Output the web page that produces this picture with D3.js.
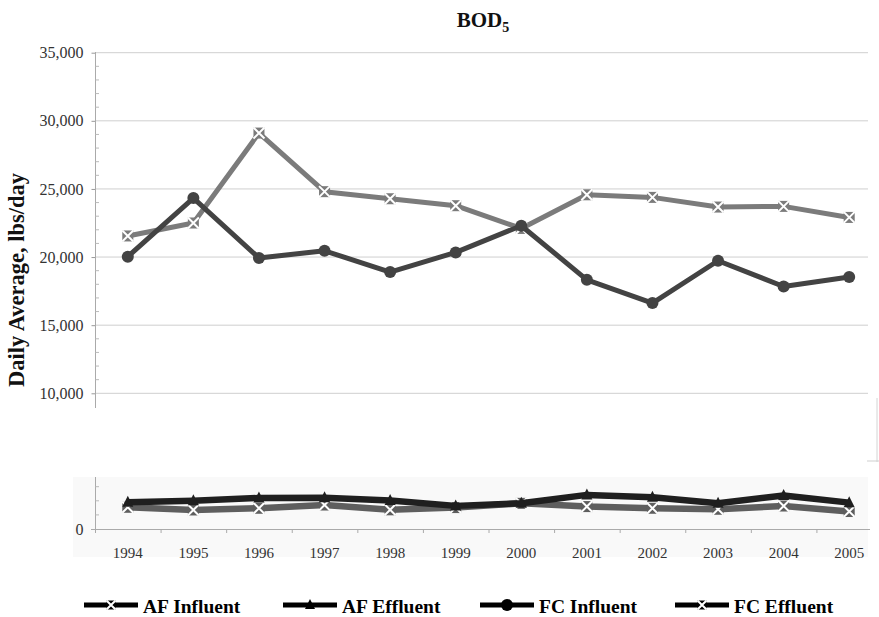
<!DOCTYPE html>
<html>
<head>
<meta charset="utf-8">
<script src="https://cdn.jsdelivr.net/npm/d3@7/dist/d3.min.js"></script>
<style>
  html, body { margin: 0; padding: 0; background: #ffffff; }
  svg { display: block; }
  text { font-family: "Liberation Serif", "Times New Roman", serif; }
</style>
</head>
<body>
<svg id="chart" width="879" height="617"></svg>
<script>
// BOD5 loads, daily average lbs/day
const years = ["1994","1995","1996","1997","1998","1999","2000","2001","2002","2003","2004","2005"];
const afInfluent = [21550, 22500, 29100, 24800, 24280, 23770, 22100, 24570, 24380, 23670, 23720, 22910];
const fcInfluent = [20030, 24330, 19930, 20460, 18900, 20340, 22300, 18330, 16620, 19730, 17840, 18530];
const afEffluent = [1900, 2000, 2200, 2220, 2020, 1640, 1830, 2420, 2250, 1830, 2380, 1870];
const fcEffluent = [1540, 1350, 1470, 1700, 1360, 1520, 1820, 1590, 1470, 1400, 1630, 1240];
const upperTicks = [10000, 15000, 20000, 25000, 30000, 35000];
const lowerTicks = [0, 1000, 2000, 3000];
const legendNames = ["AF Influent", "AF Effluent", "FC Influent", "FC Effluent"];

const svg = d3.select("#chart");
const fmt = d3.format(",");

// shared category axis
const x = d3.scaleBand().domain(years).range([95, 882]);
const cx = d => x(d) + x.bandwidth() / 2;

// upper (influent) panel and lower (effluent) panel
const yUp = d3.scaleLinear().domain([10000, 35000]).range([393.3, 52.7]);
const yLo = d3.scaleLinear().domain([0, 3000]).range([529, 486.7]);

// faint plot-area tint of the lower panel
svg.append("rect").attr("x", 73).attr("y", 477).attr("width", 795).attr("height", 80)
  .attr("fill", "#f9f9f9");

// upper gridlines
svg.append("g").selectAll("line").data(upperTicks).join("line")
  .attr("x1", 95).attr("x2", 868)
  .attr("y1", d => yUp(d)).attr("y2", d => yUp(d))
  .attr("stroke", "#cfcfcf").attr("stroke-width", 1);

// upper y axis
const upAxis = svg.append("g").attr("transform", "translate(95.5,0)")
  .call(d3.axisLeft(yUp).tickValues(upperTicks).tickFormat(fmt).tickSize(4).tickPadding(8));
upAxis.select(".domain").remove();
upAxis.selectAll(".tick line").attr("stroke", "#999");
upAxis.selectAll("text").attr("font-size", 16).attr("fill", "#333")
  .attr("font-family", "Liberation Serif, serif");
svg.append("line").attr("x1", 95.5).attr("x2", 95.5).attr("y1", 52).attr("y2", 408)
  .attr("stroke", "#aaa");
// minor ticks every 1000
svg.append("g").selectAll("line").data(d3.range(11000, 35000, 1000).filter(v => v % 5000 !== 0)).join("line")
  .attr("x1", 95.5).attr("x2", 99).attr("y1", d => yUp(d)).attr("y2", d => yUp(d))
  .attr("stroke", "#bbb");

// frame fragments on the right of the upper panel
svg.append("line").attr("x1", 877).attr("x2", 877).attr("y1", 398).attr("y2", 462)
  .attr("stroke", "#d4d4d4");
svg.append("line").attr("x1", 867).attr("x2", 879).attr("y1", 461).attr("y2", 461)
  .attr("stroke", "#cfcfcf");

// lower y axis
const loAxis = svg.append("g").attr("transform", "translate(95.5,0)")
  .call(d3.axisLeft(yLo).tickValues(lowerTicks).tickFormat(d => d === 0 ? "0" : "").tickSize(0).tickPadding(12));
loAxis.select(".domain").remove();
loAxis.selectAll("text").attr("font-size", 16).attr("fill", "#333")
  .attr("font-family", "Liberation Serif, serif");
svg.append("line").attr("x1", 95.5).attr("x2", 95.5).attr("y1", 477).attr("y2", 529)
  .attr("stroke", "#aaa");
svg.append("g").selectAll("line").data(lowerTicks.slice(1)).join("line")
  .attr("x1", 95.5).attr("x2", 99).attr("y1", d => yLo(d)).attr("y2", d => yLo(d))
  .attr("stroke", "#bbb");

// lower x axis with ticks at category boundaries
svg.append("line").attr("x1", 91).attr("x2", 870).attr("y1", 529.5).attr("y2", 529.5)
  .attr("stroke", "#aaa");
svg.append("g").selectAll("line").data(years).join("line")
  .attr("x1", d => x(d) + 0.5).attr("x2", d => x(d) + 0.5).attr("y1", 529).attr("y2", 533)
  .attr("stroke", "#aaa");
svg.append("g").selectAll("text").data(years).join("text")
  .attr("x", d => cx(d)).attr("y", 558).attr("text-anchor", "middle")
  .attr("font-size", 15).attr("fill", "#333").text(d => d);

// marker helpers
function xMarker(g, col, size) {
  const h = size / 2;
  g.append("rect").attr("x", -h).attr("y", -h).attr("width", size).attr("height", size).attr("fill", col);
  g.append("path").attr("d", `M${-h},${-h}L${h},${h}M${-h},${h}L${h},${-h}`)
    .attr("stroke", "#fff").attr("stroke-width", 2);
}
function triMarker(g, col, size) {
  const h = size / 2;
  g.append("path").attr("d", `M0,${-h - 1}L${h},${h - 1}L${-h},${h - 1}Z`).attr("fill", col);
}
function circMarker(g, col, size) {
  g.append("circle").attr("r", size / 2).attr("fill", col);
}

function drawSeries(vals, yScale, col, width, marker, msize) {
  const line = d3.line().x((d, i) => cx(years[i])).y(d => yScale(d));
  svg.append("path").datum(vals).attr("d", line)
    .attr("fill", "none").attr("stroke", col).attr("stroke-width", width)
    .attr("stroke-linejoin", "round");
  svg.append("g").selectAll("g").data(vals).join("g")
    .attr("transform", (d, i) => `translate(${cx(years[i])},${yScale(d)})`)
    .each(function () { marker(d3.select(this), col, msize); });
}

drawSeries(fcEffluent, yLo, "#5e5e5e", 6.5, xMarker, 11);
drawSeries(afEffluent, yLo, "#1f1f1f", 6.5, triMarker, 11);
drawSeries(afInfluent, yUp, "#7b7b7b", 5, xMarker, 11);
drawSeries(fcInfluent, yUp, "#434343", 5, circMarker, 12);

// title with subscript
const title = svg.append("text").attr("x", 483).attr("y", 27).attr("text-anchor", "middle")
  .attr("font-size", 21).attr("font-weight", "bold").attr("fill", "#111");
title.append("tspan").text("BOD");
title.append("tspan").attr("font-size", 14).attr("dy", 5).text("5");

// y axis title
svg.append("text").attr("transform", "translate(24,280) rotate(-90)")
  .attr("text-anchor", "middle").attr("font-size", 22.5).attr("font-weight", "bold")
  .attr("fill", "#111").text("Daily Average, lbs/day");

// legend
const legendX = [84, 283, 480, 675];
const legendMarkers = [xMarker, triMarker, circMarker, xMarker];
const legendSizes = [9, 10, 12, 9];
legendNames.forEach((name, i) => {
  const g = svg.append("g").attr("transform", `translate(${legendX[i]},605)`);
  g.append("line").attr("x1", 0).attr("x2", 54).attr("y1", 0).attr("y2", 0)
    .attr("stroke", "#000").attr("stroke-width", 5);
  const m = g.append("g").attr("transform", "translate(27,0)");
  legendMarkers[i](m, "#000", legendSizes[i]);
  g.append("text").attr("x", 59).attr("y", 8).attr("font-size", 19.5).attr("font-weight", "bold")
    .attr("fill", "#000").text(name);
});
</script>
</body>
</html>
